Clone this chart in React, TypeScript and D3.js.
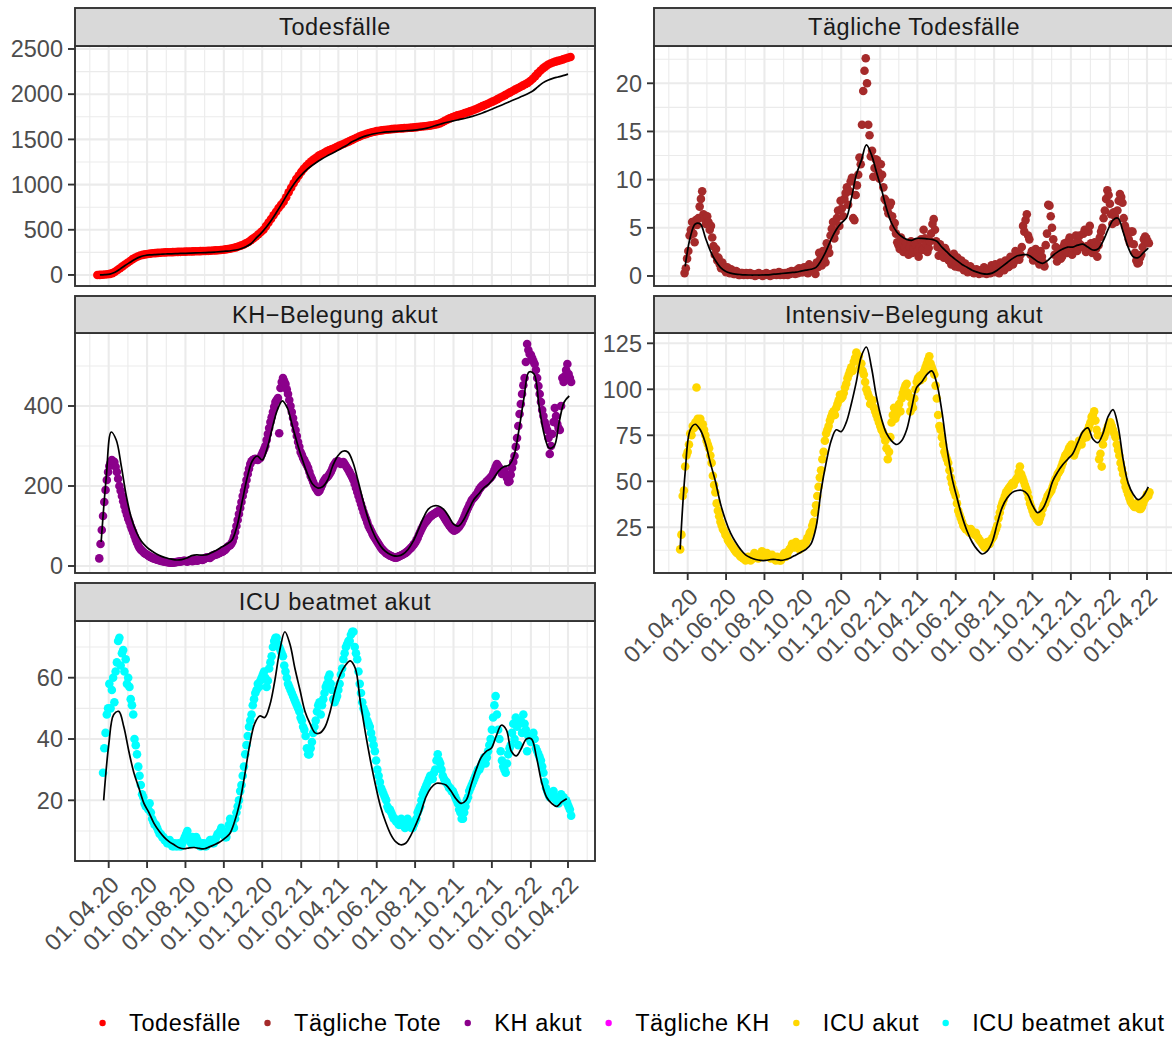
import React, { useEffect, useRef } from "react";
import * as d3 from "d3";

// Zeitachse
const xTickDates = [
  "2020-04-01", "2020-06-01", "2020-08-01", "2020-10-01", "2020-12-01",
  "2021-02-01", "2021-04-01", "2021-06-01", "2021-08-01", "2021-10-01",
  "2021-12-01", "2022-02-01", "2022-04-01",
];
const xDomain = ["2020-02-07T10:30:00Z", "2022-05-13T22:00:00Z"];

const FIT_STEP = 8; // Tage zwischen zwei Stützstellen der Glättung

// Todesfälle kumuliert, alle 4 Tage ab 14.03.2020
const todesStart = "2020-03-14";
const todesfaelle = [
  0, 1, 3, 5, 8,
  12, 20, 35, 55, 75, 95, 115, 135,
  155, 175, 190, 205, 215, 222, 228,
  232, 236, 240, 242, 244, 246, 248, 250,
  251, 252, 253, 254, 255, 256, 257,
  258, 259, 260, 261, 262, 263, 264, 265,
  266, 267, 268, 270, 272, 274, 276, 279,
  283, 287, 292, 298, 305, 315, 325,
  335, 350, 365, 385, 405, 425, 450, 475,
  500, 540, 580, 620, 660, 700, 740, 775,
  810, 860, 915, 965, 1015, 1060, 1100,
  1140, 1175, 1205, 1232, 1258, 1280, 1300,
  1320, 1335, 1350, 1365, 1378, 1390, 1402, 1415,
  1428, 1440, 1452, 1465, 1478, 1492, 1505, 1518,
  1530, 1542, 1552, 1561, 1570, 1578, 1585,
  1591, 1596, 1600, 1604, 1607, 1610, 1613, 1616,
  1618, 1620, 1622, 1624, 1626, 1628, 1630, 1633,
  1636, 1639, 1642, 1645, 1648, 1652, 1656,
  1662, 1668, 1676, 1690, 1705, 1718, 1732, 1745,
  1756, 1765, 1772, 1780, 1790, 1800, 1810, 1820,
  1830, 1842, 1855, 1868, 1880, 1892, 1905,
  1918, 1930, 1945, 1960, 1975, 1990, 2005, 2020,
  2035, 2050, 2065, 2080, 2095, 2110, 2125, 2145,
  2170, 2200, 2230, 2260, 2285, 2305, 2325,
  2340, 2350, 2360, 2368, 2375, 2385, 2395, 2403,
  2412,
];
const todesFitStart = "2020-03-18";
const todesFit = [
  0, 3, 10, 30, 65, 105, 140, 175, 200, 215,
  222, 226, 229, 232, 234, 236, 238, 240, 242, 244,
  246, 248, 251, 254, 258, 263, 268, 276, 290, 312,
  345, 405, 460, 525, 600, 685, 775, 870, 960, 1040,
  1105, 1160, 1205, 1245, 1280, 1312, 1342, 1372, 1402, 1432,
  1470, 1497, 1522, 1542, 1557, 1568, 1576, 1582, 1586, 1589,
  1592, 1596, 1600, 1606, 1614, 1625, 1640, 1658, 1675, 1690,
  1702, 1714, 1726, 1740, 1755, 1772, 1792, 1814, 1836, 1860,
  1884, 1908, 1932, 1956, 1980, 2006, 2036, 2080, 2125, 2155,
  2175, 2190, 2205, 2222,
];

// Tägliche Todesfälle, alle 2 Tage ab 27.03.2020
const taeglichStart = "2020-03-27";
const taeglich = [
  0.3, 0.8, 1.8, 2.6, 4.2, 4.8, 5.6, 4.4, 3.5, 5.8, 5.3, 6.0, 7.2, 8.0, 8.8, 6.4, 5.9, 5.4,
  6.2, 5.6, 4.8, 5.2, 4.0, 3.1, 2.2, 2.8, 1.6, 1.9, 1.2, 0.8, 1.4, 1.0, 0.6,
  0.4, 0.9, 0.6, 0.3, 0.7, 0.5, 0.2, 0.2, 0.5, 0.4, 0.1, 0.1, 0.3, 0.3, 0.1,
  0.2, 0.3, 0.1, 0.2, 0.3, 0.1, 0.2, 0.1, 0.0, 0.2, 0.1, 0.3, 0.2, 0.1, 0.0, 0.2,
  0.1, 0.3, 0.2, 0.1, 0.0, 0.2, 0.1, 0.3, 0.3, 0.1, 0.2, 0.4, 0.1, 0.3, 0.2, 0.1,
  0.3, 0.2, 0.1, 0.4, 0.2, 0.5, 0.4, 0.3, 0.2, 0.6, 0.3, 0.8, 0.6, 0.4,
  0.4, 0.9, 0.7, 0.5, 0.3, 1.2, 0.9, 0.6, 0.5, 1.0, 0.2, 1.4, 0.9, 2.4, 1.8, 1.1,
  2.6, 2.0, 1.4, 3.4, 3.0, 2.4, 4.2, 4.9, 5.6, 3.9, 4.6, 6.0, 6.8, 5.2, 7.8,
  7.0, 6.2, 8.0, 8.6, 9.2, 7.4, 8.8, 9.8, 10.2, 6.0, 5.8, 8.4, 9.4, 10.5, 12.3,
  11.6, 15.7, 19.2, 21.3, 22.6, 20.0, 15.7, 14.6, 12.4, 13.0, 10.3, 11.2, 12.1, 12.0, 10.8, 10.1,
  11.6, 10.5, 9.2, 8.0, 7.8, 7.0, 6.5, 7.3, 7.6, 6.2, 5.0, 5.5, 4.4, 3.5,
  3.2, 2.8, 4.0, 3.3, 2.5, 3.0, 3.4, 2.6, 2.2, 3.0, 3.6, 2.4, 2.8, 3.5, 3.2, 2.6,
  2.0, 3.0, 3.8, 2.7, 4.8, 3.9, 3.3, 2.5, 2.9, 3.6, 4.4, 5.4, 5.9, 4.8,
  3.6, 3.0, 2.1, 3.3, 2.8, 2.2, 1.9, 2.9, 2.6, 1.8, 1.6, 2.1, 1.2, 1.5, 2.3, 1.0,
  1.4, 1.9, 0.9, 1.2, 1.6, 0.8, 0.6, 1.3, 1.0, 0.4, 0.5, 1.0, 0.8, 0.4, 0.3, 0.5,
  0.7, 0.4, 0.2, 0.6, 0.5, 0.3, 0.9, 0.4, 0.2, 0.7, 0.6, 0.3, 1.1, 0.8,
  0.4, 1.2, 0.8, 0.5, 0.3, 1.4, 1.0, 0.7, 0.6, 1.6, 1.3, 0.9, 1.0, 2.0, 1.8, 1.2,
  1.5, 2.6, 2.4, 1.9, 1.7, 2.2, 3.0, 5.2, 4.6, 5.8, 6.4, 4.2, 3.8, 2.2, 2.6, 1.6,
  1.8, 2.8, 2.4, 1.5, 1.2, 2.6, 2.0, 1.4, 1.0, 3.2, 4.4, 7.4, 7.3, 6.2,
  5.0, 3.8, 2.2, 3.0, 1.5, 2.4, 2.8, 1.8, 2.0, 3.0, 3.4, 2.6, 2.4, 3.6, 4.0, 3.2,
  2.2, 2.9, 3.4, 4.2, 2.6, 3.5, 4.2, 3.2, 3.0, 4.4, 4.8, 2.5, 3.1, 4.6, 5.2, 3.4,
  2.4, 3.0, 3.5, 2.8, 2.0, 3.2, 4.0, 4.6, 5.0, 6.0, 6.8, 8.0, 8.9, 8.4,
  7.5, 6.4, 5.4, 6.6, 6.2, 5.6, 6.8, 7.8, 8.5, 8.2, 7.6, 6.0, 5.2, 4.8,
  4.4, 3.8, 3.4, 4.6, 4.6, 3.3, 2.4, 1.6, 1.3, 1.4, 1.9, 2.2, 3.0, 3.8, 4.1, 3.9, 3.6, 3.4,
];
const taeglichFitStart = "2020-03-28";
const taeglichFit = [
  1.0, 4.0, 5.4, 5.4, 4.0, 2.6, 1.6, 0.9, 0.5, 0.3,
  0.2, 0.15, 0.12, 0.1, 0.1, 0.1, 0.12, 0.15, 0.2, 0.25,
  0.3, 0.35, 0.4, 0.5, 0.6, 0.7, 0.9, 1.6, 2.6, 3.8,
  4.8, 5.5, 6.0, 8.0, 10.5, 12.0, 13.6, 12.6, 10.8, 9.0,
  7.0, 5.5, 4.6, 4.1, 3.8, 3.7, 3.9, 3.9, 3.85, 3.8,
  3.6, 3.0, 2.5, 2.0, 1.6, 1.2, 0.9, 0.6, 0.4, 0.25,
  0.2, 0.3, 0.6, 1.0, 1.4, 1.8, 2.1, 2.2, 2.2, 1.9,
  1.5, 1.3, 1.6, 2.1, 2.5, 2.8, 3.0, 3.0, 3.2, 3.3,
  3.0, 2.7, 2.8, 3.6, 4.8, 5.8, 6.0, 4.6, 3.0, 2.0,
  1.9, 2.4, 2.9,
];

// KH-Belegung akut, alle 2 Tage ab 17.03.2020
const khStart = "2020-03-17";
const khAkut = [
  19, 55, 90, 125, 160, 190, 215, 235,
  250, 258, 265, 262, 260, 248, 235, 218, 200, 188, 175, 162, 150, 138, 128,
  118, 110, 100, 92, 84, 75, 66, 58, 51, 45, 41, 38, 35, 32, 30,
  28, 26, 24, 22, 21, 19, 18, 17, 16, 15, 14, 13, 12, 12, 11,
  10, 10, 9, 9, 8, 8, 9, 9, 10, 10, 11, 11, 12, 12, 13, 13,
  12, 11, 13, 14, 13, 12, 14, 15, 14, 13, 15, 17, 16, 15, 17,
  19, 21, 22, 21, 20, 23, 26, 27, 28, 29, 30, 32, 33, 35, 36,
  38, 40, 44, 48, 50, 52, 56, 62, 72, 85, 100, 115, 130, 145, 160, 175,
  188, 200, 215, 230, 243, 255, 262, 265, 267, 268, 266, 265, 268, 270, 278,
  285, 292, 300, 315, 330, 345, 360, 372, 385, 398, 410, 415, 420, 332, 445,
  460, 470, 462, 455, 442, 430, 415, 400, 385, 370, 355, 340, 325, 310, 298, 285,
  278, 270, 264, 258, 252, 245, 235, 225, 218, 210, 202, 195, 190, 185,
  188, 195, 202, 210, 215, 220, 222, 225, 230, 235, 242, 250, 255, 260, 262,
  262, 258, 255, 258, 260, 255, 250, 245, 240, 234, 228, 222, 215, 205, 195,
  185, 175, 165, 155, 145, 135, 126, 118, 109, 100, 94, 88, 81, 75, 70, 65,
  60, 55, 50, 45, 41, 38, 35, 32, 30, 28, 26, 25, 23, 22, 21,
  21, 22, 24, 25, 27, 28, 30, 32, 34, 37, 40, 43, 46, 50, 54,
  58, 64, 70, 78, 85, 92, 98, 104, 108, 112, 116, 120, 123, 126, 128, 130,
  132, 134, 136, 138, 135, 132, 127, 122, 117, 112, 107, 102, 98, 94, 91,
  88, 90, 92, 95, 98, 103, 108, 115, 122, 130, 138, 145, 152, 158, 165,
  168, 172, 176, 180, 186, 192, 196, 200, 203, 205, 208, 212, 215, 218, 221,
  225, 232, 240, 248, 255, 250, 245, 238, 230, 235, 240, 230, 220, 210, 212, 228,
  245, 260, 275, 298, 320, 350, 380, 405, 430, 452, 470, 510, 555, 540, 530,
  528, 520, 512, 505, 490, 470, 450, 430, 410, 390, 375, 360, 350, 340,
  320, 280, 300, 330, 360, 395, 375, 355, 345, 340, 400, 470, 460, 475, 490, 505,
  480, 470, 460,
];
const khFitStart = "2020-03-20";
const khFit = [
  60, 220, 335, 315, 250, 175, 120, 85, 62, 48,
  38, 30, 24, 20, 17, 15, 16, 20, 26, 28,
  27, 28, 34, 40, 48, 55, 65, 100, 160, 220,
  262, 275, 265, 295, 345, 390, 413, 395, 350, 305,
  265, 230, 205, 195, 198, 215, 250, 275, 287, 285,
  260, 215, 165, 120, 85, 60, 42, 32, 26, 25,
  30, 42, 62, 90, 120, 142, 150, 150, 142, 125,
  105, 100, 115, 140, 165, 180, 195, 205, 220, 238,
  248, 252, 275, 340, 420, 485, 480, 400, 330, 295,
  300, 360, 410, 425,
];

// Intensiv-Belegung akut, alle 2 Tage ab 20.03.2020
const icuStart = "2020-03-20";
const icuAkut = [
  13, 21, 42, 45, 58, 64,
  66, 70, 76, 75, 80, 79, 82, 101, 84, 81, 84, 80, 81, 78, 75,
  72, 70, 68, 64, 60, 53, 48, 44, 38, 34, 31, 28, 26, 24, 23, 21,
  20, 18, 17, 16, 15, 14, 13, 12, 11, 11, 10, 9, 9, 8, 8,
  7, 8, 9, 8, 7, 9, 8, 11, 10, 9, 8, 10, 9, 12, 11,
  10, 9, 11, 10, 9, 8, 10, 9, 8, 7, 9, 8, 7, 7, 8, 10,
  11, 9, 10, 12, 13, 14, 16, 15, 14, 17, 16, 15, 13, 14, 16,
  15, 16, 17, 19, 20, 22, 23, 26, 28, 33, 37, 42, 47, 52, 56,
  62, 66, 72, 76, 78, 80, 83, 85, 87, 88, 86, 90, 92, 94, 97,
  95, 96, 98, 101, 103, 106, 108, 110, 112, 110, 115, 117, 120, 116, 118, 112,
  114, 110, 108, 104, 100, 98, 96, 92, 93, 94, 90, 88, 86, 84, 82,
  80, 78, 77, 75, 72, 68, 62, 66, 74, 82, 86, 90, 84, 86,
  89, 92, 88, 95, 98, 100, 102, 103, 98, 96, 88, 92, 90, 95, 100, 104,
  106, 107, 105, 108, 106, 110, 112, 114, 116, 118, 114, 112, 110, 108, 102,
  95, 86, 80, 78, 74, 70, 66, 64, 62, 60, 56, 52, 49, 46, 44,
  42, 38, 34, 32, 30, 28, 26, 25, 24, 24, 23, 22, 24, 23, 22,
  21, 22, 20, 19, 18, 17, 16, 15, 14, 15, 17, 16, 16, 18, 19, 20,
  22, 24, 26, 30, 33, 36, 38, 40, 42, 44, 45, 46, 47, 48, 49,
  48, 50, 51, 52, 55, 58, 54, 52, 50, 48, 46, 44, 41, 38, 36,
  34, 32, 31, 30, 29, 28, 30, 32, 35, 37, 38, 40, 42, 43, 44, 45,
  47, 49, 51, 52, 54, 55, 56, 58, 60, 62, 64, 65, 66, 68, 69,
  70, 68, 64, 66, 68, 70, 72, 71, 70, 73, 75, 76, 74, 78, 80,
  82, 85, 86, 88, 83, 78, 75, 62, 65, 58, 70, 74, 76, 78, 80, 79,
  82, 80, 78, 76, 74, 70, 67, 64, 60, 57, 54, 50, 47, 45,
  43, 41, 39, 38, 37, 36, 36, 38, 37, 35, 35, 36, 38, 40, 41,
  43, 42, 44,
];
const icuFitStart = "2020-03-20";
const icuFit = [
  13, 55, 78, 81, 78, 71, 60, 50, 38, 29,
  22, 17, 13, 10, 8.5, 7.5, 7, 7, 7.5, 7.5,
  7, 7.5, 8.5, 10, 11.5, 13, 16, 25, 45, 60,
  72, 78, 77, 82, 92, 104, 118, 123, 112, 96,
  84, 76, 72, 70, 72, 78, 90, 101, 104, 108,
  110, 103, 88, 68, 52, 41, 31, 23, 17, 13,
  10.5, 12, 17, 27, 36, 41, 44, 45, 45, 43,
  37, 33, 35, 41, 50, 55, 59, 62, 65, 71,
  77, 79, 73, 71, 76, 85, 89, 80, 62, 49,
  43, 40, 42, 47,
];

// ICU beatmet akut, alle 2 Tage ab 23.03.2020
const beatmetStart = "2020-03-23";
const beatmet = [
  29, 37, 42, 48, 50,
  58, 50, 56, 60, 52, 62, 65, 72, 73, 64, 68, 69, 62, 66, 58,
  60, 57, 53, 51, 48, 40, 38, 35, 31, 28, 25, 22, 21, 19, 18,
  18, 17, 19, 16, 14, 13, 12, 12, 11, 10, 9, 9, 8, 8, 7,
  7, 6, 6, 7, 6, 5, 5, 6, 5, 5, 6, 5, 5, 6, 7, 8,
  9, 10, 8, 7, 6, 8, 7, 6, 8, 7, 6, 5, 5, 6, 6,
  5, 5, 6, 6, 7, 7, 6, 6, 7, 8, 9, 9, 10, 11, 10,
  9, 8, 8, 10, 12, 14, 13, 12, 11, 14, 16, 18, 20, 23, 25, 28,
  31, 35, 38, 41, 44, 46, 48, 51, 53, 55, 56, 58, 57, 59, 60,
  61, 62, 60, 57, 59, 63, 65, 67, 70, 72, 73, 73, 71, 70, 69,
  68, 67, 64, 62, 60, 58, 57, 56, 55, 54, 53, 52, 51, 50, 49, 47,
  46, 44, 43, 41, 37, 35, 35, 37, 39, 42, 44, 46, 49, 51,
  52, 48, 51, 53, 55, 57, 58, 60, 61, 58, 56, 53, 52, 53, 54,
  56, 58, 61, 63, 66, 68, 70, 71, 72, 72, 74, 75, 75, 70, 68,
  66, 62, 58, 55, 52, 50, 49, 48, 46, 45, 44, 42, 40, 38, 36, 33,
  30, 28, 26, 24, 23, 22, 21, 20, 18, 17, 17, 16, 15, 14, 14,
  13, 13, 12, 12, 14, 13, 12, 11, 13, 14, 13, 12, 11, 11, 12,
  13, 14, 16, 17, 18, 20, 22, 23, 24, 25, 26, 27, 28, 27, 27, 29,
  30, 33, 35, 33, 32, 30, 28, 27, 26, 26, 25, 24, 24, 23, 23,
  22, 21, 20, 19, 17, 16, 14, 14, 16, 18, 20, 21, 23, 24, 25,
  26, 27, 28, 29, 30, 30, 31, 32, 33, 34, 32, 34, 36, 38, 40,
  43, 47, 51, 54, 48, 43, 40, 36, 33, 31, 30, 29, 32, 35, 37, 38,
  42, 45, 40, 47, 44, 38, 45, 46, 42, 48, 45, 43, 36, 41, 40,
  39, 41, 42, 40, 37, 36, 35, 34, 33, 31, 29, 26, 24, 23,
  22, 21, 21, 22, 23, 21, 20, 20, 19, 20, 22, 21, 21, 20, 20, 19,
  18, 17, 15,
];
const beatmetFitStart = "2020-03-24";
const beatmetFit = [
  20, 38, 48, 49, 44, 36, 29, 24, 19, 16,
  12.5, 10, 8, 6.5, 5.5, 4.5, 4.2, 4.5, 4.6, 4.3,
  4.2, 4.8, 5.5, 6.3, 7.5, 9, 13, 19, 28, 38,
  45, 47.5, 47, 51, 59, 69, 75, 71, 63, 56,
  49, 45, 42, 42, 44, 49, 56, 61, 64, 65.5,
  63, 52, 42, 33, 25, 18, 13, 9, 6.5, 5.5,
  6, 8.5, 12, 16, 21, 24, 25.5, 25.5, 25, 23,
  20.5, 19, 20, 25, 30, 34, 36, 37, 41, 44.5,
  43, 36, 34.5, 37, 40, 40, 34, 26, 21, 19,
  18, 19.5, 20.5,
];

const legendLabels = ["Todesfälle", "Tägliche Tote", "KH akut", "Tägliche KH", "ICU akut", "ICU beatmet akut"];
const legendColors = ["#FF0000", "#A52A2A", "#8B008B", "#FF00FF", "#FFD700", "#00FFFF"];

const FONT = "'Liberation Sans', Arial, Helvetica, sans-serif";
const FONT_SIZE = 23.5;
const WIDTH = 1172;
const HEIGHT = 1038;
const PANEL_W = 520;
const COLS = [75, 654];
const ROWS = [
  { strip: 8, top: 46, bottom: 286 },
  { strip: 296, top: 333, bottom: 573 },
  { strip: 583, top: 621, bottom: 861 },
];

const panels = [
  {
    title: "Todesfälle", color: legendColors[0],
    start: todesStart, step: 4, values: todesfaelle, fitStart: todesFitStart, fit: todesFit,
    yDomain: [-122, 2533], yTicks: [0, 500, 1000, 1500, 2000, 2500], col: 0, row: 0, xAxis: false,
  },
  {
    title: "Tägliche Todesfälle", color: legendColors[1],
    start: taeglichStart, step: 2, values: taeglich, fitStart: taeglichFitStart, fit: taeglichFit,
    yDomain: [-1.04, 23.87], yTicks: [0, 5, 10, 15, 20], col: 1, row: 0, xAxis: false,
  },
  {
    title: "KH\u2212Belegung akut", color: legendColors[2],
    start: khStart, step: 2, values: khAkut, fitStart: khFitStart, fit: khFit,
    yDomain: [-17.5, 582.5], yTicks: [0, 200, 400], col: 0, row: 1, xAxis: false,
  },
  {
    title: "Intensiv\u2212Belegung akut", color: legendColors[4],
    start: icuStart, step: 2, values: icuAkut, fitStart: icuFitStart, fit: icuFit,
    yDomain: [0.16, 130.6], yTicks: [25, 50, 75, 100, 125], col: 1, row: 1, xAxis: true,
  },
  {
    title: "ICU beatmet akut", color: legendColors[5],
    start: beatmetStart, step: 2, values: beatmet, fitStart: beatmetFitStart, fit: beatmetFit,
    yDomain: [0.2, 78.5], yTicks: [20, 40, 60], col: 0, row: 2, xAxis: true,
  },
];

type Pt = { date: Date; value: number };

const parse = (s: string) => new Date(s.length === 10 ? s + "T00:00:00Z" : s);

export default function App() {
  const svgRef = useRef<SVGSVGElement>(null);

  useEffect(() => {
    if (!svgRef.current) return;
    const svg = d3.select(svgRef.current);
    svg.selectAll("*").remove();

    const domain = xDomain.map(parse);
    const ticks = xTickDates.map(parse);
    const fmt = d3.utcFormat("%d.%m.%y");
    const extTicks = [
      d3.utcMonth.offset(ticks[0], -2),
      ...ticks,
      d3.utcMonth.offset(ticks[ticks.length - 1], 2),
    ];
    const xMinor = d3
      .pairs(extTicks)
      .map(([a, b]) => new Date((+a + +b) / 2))
      .filter((d) => d >= domain[0] && d <= domain[1]);

    panels.forEach((p) => {
      const left = COLS[p.col];
      const { strip, top, bottom } = ROWS[p.row];
      const x = d3.scaleUtc().domain(domain).range([left, left + PANEL_W]);
      const y = d3.scaleLinear().domain(p.yDomain).range([bottom, top]);

      const step = p.yTicks[1] - p.yTicks[0];
      const yExt = [p.yTicks[0] - step, ...p.yTicks, p.yTicks[p.yTicks.length - 1] + step];
      const yMinor = d3
        .pairs(yExt)
        .map(([a, b]) => (a + b) / 2)
        .filter((v) => v >= p.yDomain[0] && v <= p.yDomain[1]);

      const g = svg.append("g");

      g.append("rect")
        .attr("x", left)
        .attr("y", top)
        .attr("width", PANEL_W)
        .attr("height", bottom - top)
        .attr("fill", "#ffffff");

      // Gitter
      const grid = g.append("g").attr("stroke", "#EBEBEB");
      grid.selectAll(".ymin").data(yMinor).join("line")
        .attr("x1", left).attr("x2", left + PANEL_W)
        .attr("y1", (d) => y(d)).attr("y2", (d) => y(d))
        .attr("stroke-width", 1.1);
      grid.selectAll(".xmin").data(xMinor).join("line")
        .attr("x1", (d) => x(d)).attr("x2", (d) => x(d))
        .attr("y1", top).attr("y2", bottom)
        .attr("stroke-width", 1.1);
      grid.selectAll(".ymaj").data(p.yTicks).join("line")
        .attr("x1", left).attr("x2", left + PANEL_W)
        .attr("y1", (d) => y(d)).attr("y2", (d) => y(d))
        .attr("stroke-width", 2.1);
      grid.selectAll(".xmaj").data(ticks).join("line")
        .attr("x1", (d) => x(d)).attr("x2", (d) => x(d))
        .attr("y1", top).attr("y2", bottom)
        .attr("stroke-width", 2.1);

      const start = parse(p.start);
      const pts: Pt[] = p.values.map((v, i) => ({
        date: d3.utcDay.offset(start, i * p.step),
        value: v,
      }));
      g.append("g")
        .selectAll("circle")
        .data(pts)
        .join("circle")
        .attr("cx", (d) => x(d.date))
        .attr("cy", (d) => y(d.value))
        .attr("r", 4.3)
        .attr("fill", p.color);

      const fitStart = parse(p.fitStart);
      const fitPts: Pt[] = p.fit.map((v, i) => ({
        date: d3.utcDay.offset(fitStart, i * FIT_STEP),
        value: v,
      }));
      const line = d3
        .line<Pt>()
        .x((d) => x(d.date))
        .y((d) => y(d.value))
        .curve(d3.curveCatmullRom.alpha(0.5));
      g.append("path")
        .attr("d", line(fitPts) || "")
        .attr("fill", "none")
        .attr("stroke", "#000000")
        .attr("stroke-width", 1.7);

      g.append("rect")
        .attr("x", left)
        .attr("y", top)
        .attr("width", PANEL_W)
        .attr("height", bottom - top)
        .attr("fill", "none")
        .attr("stroke", "#333333")
        .attr("stroke-width", 1.9);

      // Streifen mit Titel
      g.append("rect")
        .attr("x", left)
        .attr("y", strip)
        .attr("width", PANEL_W)
        .attr("height", top - strip)
        .attr("fill", "#D9D9D9")
        .attr("stroke", "#333333")
        .attr("stroke-width", 1.9);
      g.append("text")
        .attr("x", left + PANEL_W / 2)
        .attr("y", (strip + top) / 2 + 8.3)
        .attr("text-anchor", "middle")
        .style("font-family", FONT)
        .style("font-size", `${FONT_SIZE}px`)
        .style("letter-spacing", "0.6px")
        .style("fill", "#1A1A1A")
        .text(p.title);

      // y-Achse
      const ya = g.append("g");
      ya.selectAll("line").data(p.yTicks).join("line")
        .attr("x1", left - 7).attr("x2", left)
        .attr("y1", (d) => y(d)).attr("y2", (d) => y(d))
        .attr("stroke", "#333333")
        .attr("stroke-width", 1.9);
      ya.selectAll("text").data(p.yTicks).join("text")
        .attr("x", left - 12)
        .attr("y", (d) => y(d) + 8.3)
        .attr("text-anchor", "end")
        .style("font-family", FONT)
        .style("font-size", `${FONT_SIZE}px`)
        .style("fill", "#4D4D4D")
        .text((d) => String(d));

      if (p.xAxis) {
        const xa = g.append("g");
        xa.selectAll("line").data(ticks).join("line")
          .attr("x1", (d) => x(d)).attr("x2", (d) => x(d))
          .attr("y1", bottom).attr("y2", bottom + 7)
          .attr("stroke", "#333333")
          .attr("stroke-width", 1.9);
        xa.selectAll("text").data(ticks).join("text")
          .attr("transform", (d) => `translate(${x(d)},${bottom + 13}) rotate(-45)`)
          .attr("text-anchor", "end")
          .attr("dy", "0.72em")
          .style("font-family", FONT)
          .style("font-size", `${FONT_SIZE}px`)
          .style("letter-spacing", "0.3px")
          .style("fill", "#4D4D4D")
          .text((d) => fmt(d));
      }
    });

    // Legende
    const legend = svg.append("g");
    let cursor = 0;
    legendLabels.forEach((label, i) => {
      const item = legend.append("g").attr("transform", `translate(${cursor},0)`);
      item.append("circle").attr("cx", 0).attr("cy", 0).attr("r", 3.2).attr("fill", legendColors[i]);
      const t = item
        .append("text")
        .attr("x", 26.5)
        .attr("y", 8.3)
        .style("font-family", FONT)
        .style("font-size", `${FONT_SIZE}px`)
        .style("letter-spacing", "0.6px")
        .style("fill", "#000000")
        .text(label);
      const w = (t.node() as SVGTextElement).getComputedTextLength();
      cursor += 26.5 + w + 26.6;
    });
    const total = cursor - 26.6 + 3.2;
    legend.attr("transform", `translate(${632 - total / 2 + 3.2},1023)`);
  }, []);

  return (
    <svg
      ref={svgRef}
      width={WIDTH}
      height={HEIGHT}
      style={{ position: "absolute", left: 0, top: 0, background: "#ffffff", display: "block" }}
    />
  );
}
